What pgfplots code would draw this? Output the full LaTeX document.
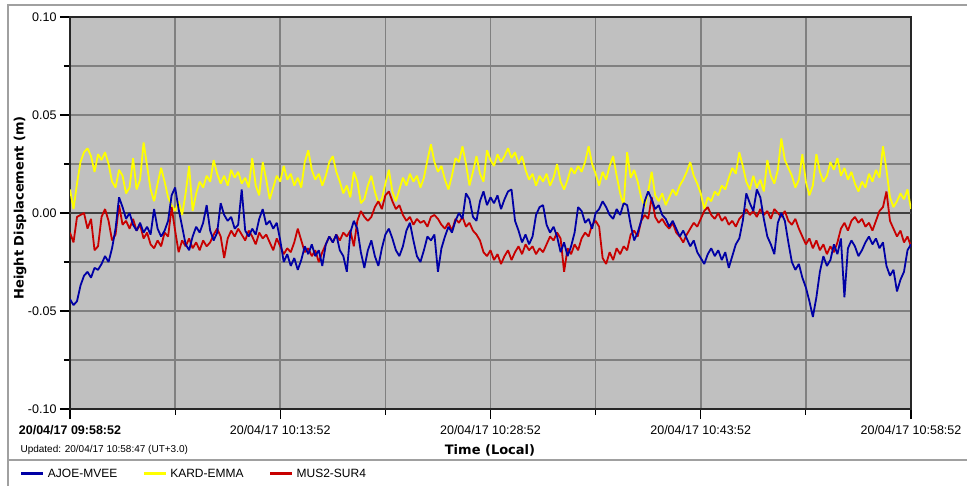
\documentclass[border=0pt]{standalone}
\usepackage{pgfplots}
\pgfplotsset{compat=1.18}
\usepackage{pgfplotstable}
\usepackage{fontspec}
\setmainfont{Liberation Sans}
\newfontfamily\labfont{DejaVu Sans}
\definecolor{bgray}{RGB}{192,192,192}
\definecolor{gridgray}{RGB}{128,128,128}
\definecolor{zerogray}{RGB}{64,64,64}
\definecolor{framegray}{RGB}{160,160,160}
\definecolor{ablue}{RGB}{0,0,165}
\definecolor{kyellow}{RGB}{255,255,0}
\definecolor{mred}{RGB}{200,0,0}

\pgfplotstableread{
t a k m
0 -0.044 0.012 -0.010
0.25 -0.047 0.002 -0.015
0.5 -0.045 0.015 -0.002
0.75 -0.037 0.026 -0.001
1 -0.032 0.031 0.000
1.25 -0.030 0.033 -0.008
1.5 -0.033 0.029 -0.003
1.75 -0.028 0.021 -0.019
2 -0.029 0.030 -0.017
2.25 -0.026 0.027 -0.002
2.5 -0.022 0.031 0.002
2.75 -0.025 0.025 -0.004
3 -0.018 0.016 -0.014
3.25 -0.008 0.013 -0.011
3.5 0.008 0.022 0.004
3.75 0.003 0.019 -0.006
4 -0.003 0.010 -0.004
4.25 0.000 0.013 -0.008
4.5 -0.006 0.028 -0.003
4.75 -0.009 0.012 -0.009
5 -0.005 0.017 -0.006
5.25 -0.010 0.036 -0.013
5.5 -0.007 0.024 -0.010
5.75 -0.011 0.012 -0.016
6 0.002 0.006 -0.018
6.25 -0.008 0.015 -0.014
6.5 -0.012 0.023 -0.017
6.75 -0.009 0.016 -0.010
7 -0.004 0.008 -0.012
7.25 0.009 0.004 0.003
7.5 0.013 0.001 -0.009
7.75 0.002 0.006 -0.020
8 -0.007 -0.001 -0.014
8.25 -0.016 0.010 -0.017
8.5 -0.019 0.024 -0.013
8.75 -0.012 0.001 -0.018
9 -0.007 0.010 -0.015
9.25 -0.010 0.016 -0.019
9.5 -0.005 0.013 -0.014
9.75 0.004 0.019 -0.017
10 -0.009 0.016 -0.015
10.25 -0.014 0.027 -0.011
10.5 -0.010 0.020 -0.008
10.75 0.005 0.015 -0.012
11 -0.001 0.019 -0.023
11.25 -0.004 0.014 -0.013
11.5 -0.002 0.022 -0.009
11.75 -0.008 0.018 -0.012
12 -0.006 0.021 -0.008
12.25 0.012 0.015 -0.011
12.5 -0.009 0.018 -0.014
12.75 -0.012 0.013 -0.009
13 -0.008 0.028 -0.012
13.25 -0.011 0.014 -0.016
13.5 -0.003 0.009 -0.010
13.75 0.002 0.026 -0.013
14 -0.006 0.017 -0.011
14.25 -0.004 0.007 -0.015
14.5 -0.008 0.013 -0.019
14.75 -0.005 0.019 -0.013
15 -0.014 0.016 -0.017
15.25 -0.025 0.024 -0.021
15.5 -0.021 0.017 -0.018
15.75 -0.027 0.020 -0.020
16 -0.023 0.014 -0.015
16.25 -0.029 0.018 -0.008
16.5 -0.024 0.013 -0.014
16.75 -0.017 0.026 -0.020
17 -0.021 0.032 -0.018
17.25 -0.016 0.022 -0.022
17.5 -0.022 0.017 -0.019
17.75 -0.019 0.020 -0.025
18 -0.027 0.014 -0.020
18.25 -0.016 0.019 -0.016
18.5 -0.012 0.026 -0.012
18.75 -0.015 0.029 -0.015
19 -0.011 0.021 -0.011
19.25 -0.019 0.016 -0.014
19.5 -0.022 0.010 -0.010
19.75 -0.030 0.014 -0.012
20 -0.010 0.008 -0.009
20.25 -0.004 0.021 -0.017
20.5 -0.008 0.016 -0.004
20.75 -0.020 0.005 0.001
21 -0.028 0.007 -0.002
21.25 -0.019 0.014 -0.004
21.5 -0.014 0.019 -0.002
21.75 -0.022 0.011 0.003
22 -0.027 0.005 0.006
22.25 -0.018 0.007 0.002
22.5 -0.011 0.015 0.009
22.75 -0.008 0.022 0.011
23 -0.013 0.011 0.006
23.25 -0.019 0.006 0.002
23.5 -0.022 0.012 0.004
23.75 -0.017 0.018 -0.001
24 -0.009 0.014 -0.004
24.25 -0.005 0.020 -0.002
24.5 -0.014 0.016 -0.006
24.75 -0.022 0.019 -0.003
25 -0.025 0.013 -0.005
25.25 -0.019 0.018 -0.004
25.5 -0.012 0.027 -0.007
25.75 -0.014 0.035 -0.002
26 -0.011 0.026 -0.001
26.25 -0.030 0.021 -0.003
26.5 -0.018 0.024 -0.006
26.75 -0.012 0.017 -0.008
27 -0.007 0.012 -0.005
27.25 -0.010 0.019 -0.009
27.5 -0.004 0.028 -0.003
27.75 0.000 0.026 -0.005
28 -0.003 0.034 -0.002
28.25 0.010 0.025 -0.007
28.5 0.007 0.014 -0.005
28.75 -0.002 0.021 -0.009
29 -0.004 0.029 -0.011
29.25 0.006 0.020 -0.014
29.5 0.011 0.016 -0.020
29.75 0.004 0.032 -0.022
30 0.008 0.027 -0.019
30.25 0.005 0.024 -0.024
30.5 0.009 0.030 -0.021
30.75 0.002 0.026 -0.026
31 0.007 0.029 -0.022
31.25 0.011 0.033 -0.019
31.5 0.012 0.028 -0.024
31.75 -0.004 0.031 -0.020
32 -0.009 0.025 -0.017
32.25 -0.015 0.029 -0.021
32.5 -0.011 0.022 -0.016
32.75 -0.016 0.017 -0.019
33 -0.012 0.020 -0.017
33.25 -0.001 0.014 -0.021
33.5 0.003 0.019 -0.018
33.75 0.004 0.016 -0.020
34 -0.006 0.020 -0.016
34.25 -0.010 0.014 -0.012
34.5 -0.007 0.018 -0.014
34.75 -0.012 0.025 -0.010
35 -0.020 0.016 -0.013
35.25 -0.015 0.012 -0.030
35.5 -0.022 0.017 -0.018
35.75 -0.017 0.023 -0.021
36 -0.010 0.020 -0.016
36.25 0.003 0.024 -0.019
36.5 0.001 0.021 -0.013
36.75 -0.005 0.026 -0.010
37 -0.003 0.034 -0.012
37.25 -0.008 0.025 -0.006
37.5 0.000 0.020 -0.004
37.75 0.002 0.014 -0.007
38 0.006 0.021 -0.023
38.25 0.003 0.017 -0.026
38.5 -0.001 0.024 -0.020
38.75 -0.003 0.029 -0.024
39 0.002 0.019 -0.018
39.25 -0.001 0.010 -0.021
39.5 0.005 0.004 -0.017
39.75 0.004 0.031 -0.019
40 -0.006 0.018 -0.011
40.25 -0.014 0.022 -0.009
40.5 -0.010 0.016 -0.012
40.75 -0.004 0.008 -0.004
41 0.006 0.003 -0.001
41.25 0.011 0.011 -0.003
41.5 0.007 0.021 0.008
41.75 0.002 0.009 -0.002
42 0.004 0.006 -0.005
42.25 -0.001 0.010 -0.003
42.5 -0.003 0.004 -0.006
42.75 -0.007 0.008 -0.008
43 -0.004 0.012 -0.005
43.25 -0.008 0.009 -0.010
43.5 -0.012 0.014 -0.012
43.75 -0.009 0.017 -0.015
44 -0.013 0.021 -0.011
44.25 -0.017 0.026 -0.008
44.5 -0.014 0.019 -0.005
44.75 -0.020 0.015 -0.007
45 -0.023 0.010 -0.003
45.25 -0.026 0.002 0.001
45.5 -0.021 0.008 0.003
45.75 -0.018 0.006 -0.001
46 -0.022 0.011 -0.003
46.25 -0.019 0.009 0.000
46.5 -0.024 0.014 -0.004
46.75 -0.020 0.012 -0.002
47 -0.028 0.018 -0.006
47.25 -0.022 0.023 -0.004
47.5 -0.016 0.020 -0.007
47.75 -0.013 0.031 -0.003
48 -0.004 0.024 -0.001
48.25 0.010 0.016 0.002
48.5 0.005 0.012 -0.001
48.75 0.001 0.019 0.001
49 0.012 0.013 -0.002
49.25 0.008 0.017 0.002
49.5 -0.003 0.011 -0.001
49.75 -0.012 0.027 0.001
50 -0.016 0.019 -0.003
50.25 -0.021 0.015 0.002
50.5 -0.005 0.022 0.000
50.75 0.000 0.038 -0.002
51 -0.004 0.027 0.001
51.25 -0.015 0.023 -0.004
51.5 -0.025 0.019 -0.006
51.75 -0.029 0.013 -0.003
52 -0.026 0.017 -0.008
52.25 -0.033 0.030 -0.012
52.5 -0.038 0.016 -0.016
52.75 -0.045 0.009 -0.013
53 -0.053 0.014 -0.018
53.25 -0.043 0.030 -0.014
53.5 -0.030 0.021 -0.019
53.75 -0.022 0.016 -0.016
54 -0.027 0.019 -0.021
54.25 -0.024 0.026 -0.017
54.5 -0.016 0.022 -0.020
54.75 -0.021 0.028 -0.015
55 -0.013 0.019 -0.008
55.25 -0.043 0.023 -0.005
55.5 -0.018 0.017 -0.009
55.75 -0.014 0.021 -0.004
56 -0.017 0.015 -0.002
56.25 -0.022 0.011 -0.005
56.5 -0.019 0.016 -0.003
56.75 -0.015 0.013 -0.007
57 -0.012 0.020 -0.005
57.25 -0.016 0.016 -0.009
57.5 -0.013 0.022 -0.004
57.75 -0.018 0.018 0.001
58 -0.015 0.034 0.003
58.25 -0.027 0.022 0.011
58.5 -0.032 0.008 -0.004
58.75 -0.029 0.003 -0.008
59 -0.040 0.006 -0.012
59.25 -0.034 0.010 -0.009
59.5 -0.030 0.007 -0.015
59.75 -0.019 0.012 -0.012
60 -0.016 0.002 -0.017
}\datatable

\begin{document}
\begin{tikzpicture}
\useasboundingbox (0,0) rectangle (967pt,486pt);
\fill[white] (0,0) rectangle (967pt,486pt);
\draw[framegray, line width=1.5pt] (967pt,481pt) -- (8pt,481pt) -- (8pt,0pt);
\draw[framegray, line width=1.5pt] (8pt,26pt) -- (967pt,26pt);
\begin{axis}[
  at={(70pt,77pt)}, anchor=south west,
  width=841pt, height=392pt, scale only axis,
  xmin=0, xmax=60, ymin=-0.1, ymax=0.1,
  axis background/.style={fill=bgray},
  xtick={0,15,30,45,60},
  minor xtick={7.5,22.5,37.5,52.5},
  xticklabels={{\bfseries 20/04/17 09:58:52},{20/04/17 10:13:52},{20/04/17 10:28:52},{20/04/17 10:43:52},{20/04/17 10:58:52}},
  xticklabel style={yshift=-3pt},
  ytick={-0.1,-0.05,0,0.05,0.1},
  minor ytick={-0.075,-0.025,0.025,0.075},
  yticklabels={-0.10,-0.05,0.00,0.05,0.10},
  grid=both,
  major grid style={gridgray, line width=1.6pt},
  minor grid style={gridgray, line width=1.6pt},
  tick align=outside, xtick pos=left, ytick pos=left,
  major tick length=10pt, minor tick length=6pt,
  every tick/.style={black, line width=1.2pt},
  axis line style={line width=1.6pt, draw=black!85},
  tick label style={font=\fontsize{12.5}{14}\selectfont, text=black},
  legend columns=3,
  legend style={at={(axis description cs:-0.0595,-0.1658)}, anchor=west, draw=none, fill=none, inner sep=0pt, outer sep=0pt,
    font=\fontsize{12}{14}\selectfont, nodes={inner sep=3pt},
    /tikz/every even column/.append style={column sep=22pt}},
  legend image code/.code={\draw[line width=3pt] (0pt,0pt) -- (22pt,0pt);},
  every axis plot/.append style={line width=1.8pt, line join=bevel},
]
\addlegendimage{ablue}
\addlegendentry{AJOE-MVEE}
\addlegendimage{kyellow}
\addlegendentry{KARD-EMMA}
\addlegendimage{mred}
\addlegendentry{MUS2-SUR4}
\addplot[forget plot, zerogray, line width=2pt] coordinates {(0,0) (60,0)};
\addplot[forget plot, kyellow] table[x=t, y=k] {\datatable};
\addplot[forget plot, mred] table[x=t, y=m] {\datatable};
\addplot[forget plot, ablue] table[x=t, y=a] {\datatable};
\end{axis}
\node[rotate=90, font=\labfont\bfseries\fontsize{13}{15}\selectfont] at (20pt,278pt) {Height Displacement (m)};
\node[font=\labfont\bfseries\fontsize{13}{15}\selectfont] at (490pt,36pt) {Time (Local)};
\node[anchor=west, font=\fontsize{10}{12}\selectfont] at (17pt,36pt) {Updated: 20/04/17 10:58:47 (UT+3.0)};
\end{tikzpicture}
\end{document}
